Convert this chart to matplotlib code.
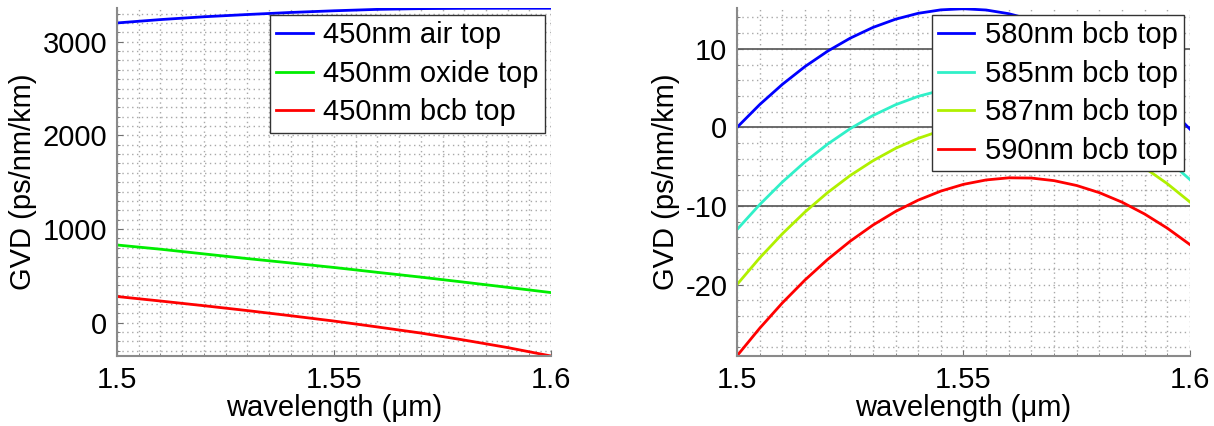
import matplotlib
matplotlib.use("Agg")
import matplotlib.pyplot as plt
from matplotlib.ticker import MultipleLocator

plt.rcParams['font.family'] = ['Liberation Sans', 'DejaVu Sans']
plt.rcParams['font.size'] = 21
plt.rcParams['axes.unicode_minus'] = False

# left panel: 450nm guides, 3 top claddings
wl_left = [1.50, 1.51, 1.52, 1.53, 1.54, 1.55, 1.56, 1.57, 1.58, 1.59, 1.60]
air_top = [3200, 3236, 3266, 3290, 3312, 3330, 3345, 3353, 3356, 3357, 3357]
oxide_top = [830, 785, 735, 685, 638, 590, 538, 487, 433, 378, 322]
bcb_top = [280, 232, 182, 130, 75, 18, -45, -110, -185, -265, -355]
left_labels = ['450nm air top', '450nm oxide top', '450nm bcb top']

# right panel: bcb top, different widths
wl_right = [1.500, 1.505, 1.510, 1.515, 1.520, 1.525, 1.530, 1.535, 1.540, 1.545, 1.550,
            1.555, 1.560, 1.565, 1.570, 1.575, 1.580, 1.585, 1.590, 1.595, 1.600]
w580 = [0.0, 2.90, 5.47, 7.74, 9.70, 11.36, 12.72, 13.77, 14.52, 14.96, 15.10,
        14.94, 14.47, 13.70, 12.62, 11.24, 9.55, 7.57, 5.27, 2.68, -0.22]
w585 = [-13.0, -9.83, -6.96, -4.39, -2.13, -0.16, 1.51, 2.88, 3.95, 4.71, 5.18,
        5.35, 5.22, 4.79, 4.05, 3.02, 1.69, 0.06, -1.87, -4.11, -6.64]
w587 = [-20.0, -16.62, -13.55, -10.77, -8.30, -6.12, -4.25, -2.67, -1.40, -0.42, 0.25,
        0.63, 0.70, 0.48, -0.05, -0.87, -2.00, -3.42, -5.15, -7.17, -9.50]
w590 = [-29.08, -25.57, -22.35, -19.43, -16.81, -14.48, -12.44, -10.70, -9.26, -8.11, -7.25,
        -6.69, -6.42, -6.45, -6.78, -7.40, -8.31, -9.52, -11.03, -12.83, -14.92]
right_labels = ['580nm bcb top', '585nm bcb top', '587nm bcb top', '590nm bcb top']
ref_lines = [10, 0, -10]

fig = plt.figure(figsize=(12.14, 4.26), dpi=100)
ax1 = fig.add_axes([0.0964, 0.1643, 0.3575, 0.817])
ax2 = fig.add_axes([0.6071, 0.1643, 0.3731, 0.817])


def style(ax, ymajor, yminor):
    ax.set_xlim(1.5, 1.6)
    ax.xaxis.set_major_locator(MultipleLocator(0.05))
    ax.xaxis.set_minor_locator(MultipleLocator(0.005))
    ax.yaxis.set_major_locator(MultipleLocator(ymajor))
    ax.yaxis.set_minor_locator(MultipleLocator(yminor))
    ax.set_xticks([1.5, 1.55, 1.6])
    ax.set_xticklabels(['1.5', '1.55', '1.6'])
    ax.grid(True, which='both', linestyle=(0, (1, 2.5)), color='#a8a8a8', linewidth=1.0)
    ax.set_axisbelow(True)
    ax.tick_params(which='both', direction='in', color='#707070')
    ax.tick_params(which='major', length=4, pad=7)
    ax.tick_params(which='minor', length=2)
    for s in ['top', 'right']:
        ax.spines[s].set_visible(False)
    for s in ['left', 'bottom']:
        ax.spines[s].set_color('#8a8a8a')
        ax.spines[s].set_linewidth(1.5)
    ax.set_xlabel('wavelength (\u03bcm)', labelpad=0)
    ax.set_ylabel('GVD (ps/nm/km)', labelpad=4)


def add_legend(ax, right):
    leg = ax.legend(loc='upper right', bbox_to_anchor=(right, 0.98), fancybox=False,
                    framealpha=1, edgecolor='#333333', handlelength=1.25,
                    handletextpad=0.35, labelspacing=0.36, borderpad=0.22,
                    borderaxespad=0)
    leg.get_frame().set_linewidth(1.0)


ax1.plot(wl_left, air_top, color='#0000ff', lw=2, label=left_labels[0])
ax1.plot(wl_left, oxide_top, color='#00ee00', lw=2, label=left_labels[1])
ax1.plot(wl_left, bcb_top, color='#ff0000', lw=2, label=left_labels[2])
ax1.set_ylim(-355, 3360)
style(ax1, 1000, 100)
add_legend(ax1, 0.986)

for y in ref_lines:
    ax2.axhline(y, color='#606060', lw=1.3, zorder=1.5)
ax2.plot(wl_right, w580, color='#0000ff', lw=2, label=right_labels[0])
ax2.plot(wl_right, w585, color='#30f0c8', lw=2, label=right_labels[1])
ax2.plot(wl_right, w587, color='#b0f000', lw=2, label=right_labels[2])
ax2.plot(wl_right, w590, color='#ff0000', lw=2, label=right_labels[3])
ax2.set_ylim(-29.1, 15.2)
style(ax2, 10, 2)
add_legend(ax2, 0.987)

fig.savefig('out.png', dpi=100)
